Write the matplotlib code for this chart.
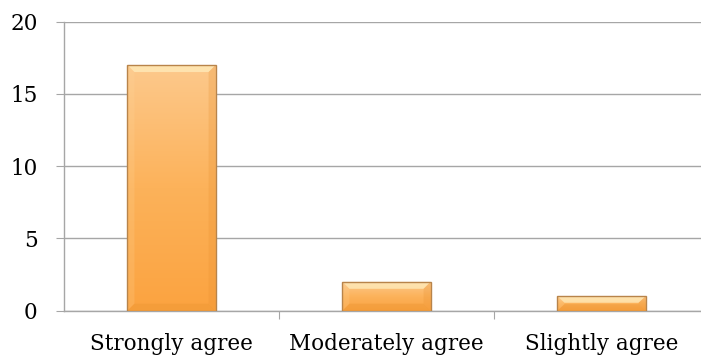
import numpy as np
import matplotlib.pyplot as plt
from matplotlib.patches import Rectangle, Polygon
from matplotlib.colors import LinearSegmentedColormap

categories = ["Strongly agree", "Moderately agree", "Slightly agree"]
counts = [17, 2, 1]
y_ticks = [0, 5, 10, 15, 20]

plt.rcParams['font.family'] = ['DejaVu Serif']

fig = plt.figure(figsize=(7.01, 3.6), dpi=100)
ax = fig.add_axes([64 / 701, 49.3 / 360, 637 / 701, 289 / 360])

x = np.arange(len(categories))
width = 0.41
ax.set_xlim(-0.5, 2.5 - 8 / 215)
ax.set_ylim(0, 20)

ax.set_yticks(y_ticks)
ax.yaxis.grid(True, color="#a6a6a6", linewidth=1.0)
ax.set_axisbelow(True)
for s in ["top", "right"]:
    ax.spines[s].set_visible(False)
for s in ["left", "bottom"]:
    ax.spines[s].set_color("#a6a6a6")
    ax.spines[s].set_linewidth(1.0)

ax.set_xticks([0.5, 1.5], minor=False)
ax.set_xticklabels([])
ax.set_xticks(x, minor=True)
ax.set_xticklabels(categories, minor=True, fontsize=15.5)
ax.tick_params(axis="x", which="minor", length=0, pad=16)
ax.tick_params(axis="x", which="major", length=6, color="#a6a6a6", direction="out")
ax.tick_params(axis="y", length=6, color="#a6a6a6", labelsize=15.5, pad=13)

# orange gradient, light at top, darker at bottom
cmap = LinearSegmentedColormap.from_list("orange", ["#fba340", "#fcb25a", "#fdc98c"])
grad = np.linspace(0, 1, 256).reshape(-1, 1)

# pixel size in data units, for the bevel
fig.canvas.draw()
inv = ax.transData.inverted()
p0 = inv.transform((0, 0))
p1 = inv.transform((1, 1))
dx, dy = p1[0] - p0[0], p1[1] - p0[1]
bev = 7

for xi, v in zip(x, counts):
    x0, x1 = xi - width / 2, xi + width / 2
    # soft shadow
    ax.add_patch(Rectangle((x0 + 1.5 * dx, -1.5 * dy), width, v, facecolor="#000000",
                           alpha=0.12, edgecolor="none", zorder=2))
    rect = Rectangle((x0, 0), width, v, facecolor="none", edgecolor="#b8844a",
                     linewidth=1.0, zorder=4)
    ax.add_patch(rect)
    im = ax.imshow(grad, extent=(x0, x1, 0, v), origin="lower", cmap=cmap,
                   aspect="auto", zorder=3, interpolation="bilinear")
    im.set_clip_path(rect)
    bx, by = bev * dx, min(bev * dy, v * 0.45)
    # top bevel highlight
    ax.add_patch(Polygon([(x0, v), (x1, v), (x1 - bx, v - by), (x0 + bx, v - by)],
                         closed=True, facecolor="#ffeab8", alpha=0.8,
                         edgecolor="none", zorder=3.5))
    # side bevels
    ax.add_patch(Polygon([(x0, v), (x0 + bx, v - by), (x0 + bx, by), (x0, 0)],
                         closed=True, facecolor="#ffd9a0", alpha=0.2,
                         edgecolor="none", zorder=3.5))
    ax.add_patch(Polygon([(x1, v), (x1 - bx, v - by), (x1 - bx, by), (x1, 0)],
                         closed=True, facecolor="#e89030", alpha=0.25,
                         edgecolor="none", zorder=3.5))
    # bottom bevel
    ax.add_patch(Polygon([(x0, 0), (x1, 0), (x1 - bx, by), (x0 + bx, by)],
                         closed=True, facecolor="#e8922f", alpha=0.35,
                         edgecolor="none", zorder=3.5))

ax.set_xlim(-0.5, 2.5 - 8 / 215)
ax.set_ylim(0, 20)

fig.savefig("out.png", dpi=100)
